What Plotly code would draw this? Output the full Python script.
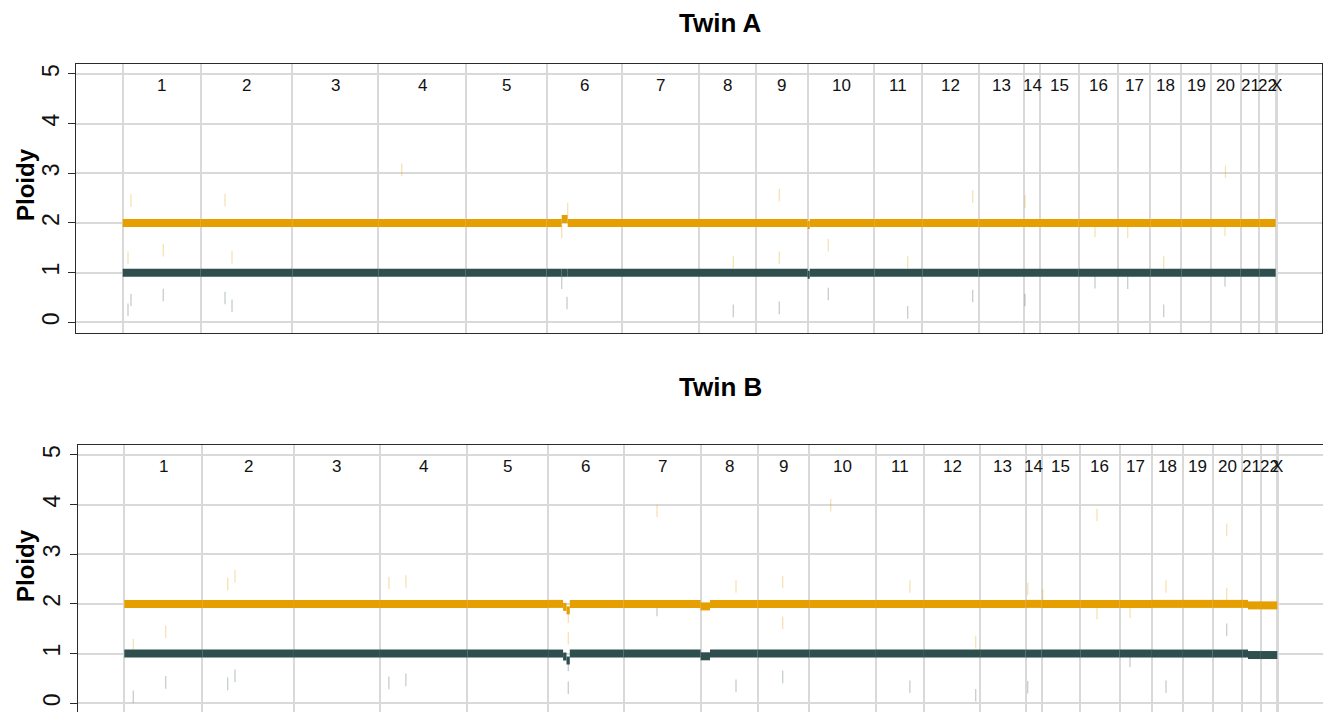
import plotly.graph_objects as go

# ---------------- data ----------------
chrom_names = ["1", "2", "3", "4", "5", "6", "7", "8", "9", "10", "11", "12",
               "13", "14", "15", "16", "17", "18", "19", "20", "21", "22", "X"]
# chromosome widths on the (compressed) genome axis
chrom_sizes = [78.0, 91.6, 86.0, 87.4, 80.8, 75.5, 77.0, 57.0, 51.7, 66.6, 48.0, 56.2,
               45.5, 16.0, 38.7, 39.3, 32.3, 31.0, 29.7, 29.7, 18.6, 16.4, 1.0]

# copy-number segments: chromosome, start, end (within chromosome), total ploidy, minor ploidy
a_seg_chrom = ["1", "2", "3", "4", "5", "6", "6", "6", "7", "8", "9", "10", "10", "11", "12",
               "13", "14", "15", "16", "17", "18", "19", "20", "21", "22"]
a_seg_start = [0, 0, 0, 0, 0, 0, 15.2, 21.2, 0, 0, 0, 0, 2.0, 0, 0,
               0, 0, 0, 0, 0, 0, 0, 0, 0, 0]
a_seg_end = [78.0, 91.6, 86.0, 87.4, 80.8, 15.2, 21.2, 75.5, 77.0, 57.0, 51.7, 2.0, 66.6, 48.0, 56.2,
             45.5, 16.0, 38.7, 39.3, 32.3, 31.0, 29.7, 29.7, 18.6, 16.4]
a_seg_total = [2, 2, 2, 2, 2, 2, 2.08, 2, 2, 2, 2, 1.96, 2, 2, 2,
               2, 2, 2, 2, 2, 2, 2, 2, 2, 2]
a_seg_minor = [1, 1, 1, 1, 1, 1, 1, 1, 1, 1, 1, 0.96, 1, 1, 1,
               1, 1, 1, 1, 1, 1, 1, 1, 1, 1]

b_seg_chrom = ["1", "2", "3", "4", "5", "6", "6", "6", "6", "7", "8", "8", "9", "10", "11", "12",
               "13", "14", "15", "16", "17", "18", "19", "20", "21", "21", "22"]
b_seg_start = [0, 0, 0, 0, 0, 0, 15.0, 18.4, 21.7, 0, 0, 9.4, 0, 0, 0, 0,
               0, 0, 0, 0, 0, 0, 0, 0, 0, 5.7, 0]
b_seg_end = [78.0, 91.6, 86.0, 87.4, 80.8, 15.0, 18.4, 21.7, 75.5, 77.0, 9.4, 57.0, 51.7, 66.6, 48.0, 56.2,
             45.5, 16.0, 38.7, 39.3, 32.3, 31.0, 29.7, 29.7, 5.7, 18.6, 16.4]
b_seg_total = [2, 2, 2, 2, 2, 2, 1.94, 1.87, 2, 2, 1.95, 2, 2, 2, 2, 2,
               2, 2, 2, 2, 2, 2, 2, 2, 2, 1.97, 1.97]
b_seg_minor = [1, 1, 1, 1, 1, 1, 0.94, 0.86, 1, 1, 0.945, 1, 1, 1, 1, 1,
               1, 1, 1, 1, 1, 1, 1, 1, 1, 0.97, 0.97]

# faint individual bin estimates (chromosome, position, value, series T=total / M=minor)
a_pt_chrom = ["1", "1", "1", "1", "1", "1", "2", "2", "2", "2", "4", "6", "6", "6", "6",
              "8", "8", "9", "9", "9", "10", "10", "11", "11", "12", "12", "14", "14",
              "16", "16", "17", "17", "18", "18", "20", "20", "20"]
a_pt_pos = [8.3, 8.3, 5.3, 5.3, 40.6, 40.6, 24.3, 24.3, 31.3, 31.3, 23.4, 15.2, 15.2, 21.2, 20.5,
            34.3, 34.3, 23.3, 23.3, 23.3, 20.6, 20.6, 33.4, 33.4, 50.4, 50.4, 1.0, 1.0,
            16.3, 16.3, 9.7, 9.7, 13.4, 13.4, 14.0, 14.0, 14.5]
a_pt_val = [2.45, 0.45, 1.3, 0.25, 1.45, 0.55, 2.46, 0.49, 1.31, 0.33, 3.07, 1.82, 0.8, 2.28, 0.39,
            1.21, 0.23, 2.56, 1.3, 0.29, 1.55, 0.57, 1.21, 0.2, 2.53, 0.53, 2.43, 0.45,
            1.84, 0.81, 1.82, 0.8, 1.21, 0.23, 1.86, 0.85, 3.03]
a_pt_kind = ["T", "M", "T", "M", "T", "M", "T", "M", "T", "M", "T", "T", "M", "T", "M",
             "T", "M", "T", "T", "M", "T", "M", "T", "M", "T", "M", "T", "M",
             "T", "M", "T", "M", "T", "M", "T", "M", "T"]

b_pt_chrom = ["1", "1", "1", "1", "2", "2", "2", "2", "4", "4", "4", "4", "6", "6", "6", "6",
              "7", "7", "8", "8", "9", "9", "9", "10", "11", "11", "12", "12", "14", "14", "15",
              "16", "16", "17", "17", "18", "18", "20", "20", "20"]
b_pt_pos = [9.0, 9.0, 41.4, 41.4, 25.4, 25.4, 32.7, 32.7, 9.0, 9.0, 26.0, 26.0, 20.2, 20.2, 20.2, 20.2,
            33.4, 33.4, 35.4, 35.4, 25.1, 25.1, 25.1, 21.4, 34.0, 34.0, 51.8, 51.8, 2.1, 2.1, 1.1,
            16.7, 16.7, 10.4, 10.4, 14.1, 14.1, 14.1, 14.1, 14.1]
b_pt_val = [1.17, 0.13, 1.44, 0.42, 2.4, 0.39, 2.56, 0.55, 2.42, 0.41, 2.45, 0.47, 1.74, 1.31, 0.77, 0.31,
            3.87, 1.88, 2.35, 0.35, 2.44, 1.62, 0.53, 3.99, 2.35, 0.33, 1.23, 0.16, 2.3, 0.32, 2.17,
            3.79, 1.82, 1.84, 0.85, 2.35, 0.33, 3.49, 2.2, 1.48]
b_pt_kind = ["T", "M", "T", "M", "T", "M", "T", "M", "T", "M", "T", "M", "T", "T", "M", "M",
             "T", "M", "T", "M", "T", "T", "M", "T", "T", "M", "T", "M", "T", "M", "T",
             "T", "T", "T", "M", "T", "M", "T", "T", "M"]

ORANGE = "#E69F00"
DARK = "#2F4F4F"
GRID = "#d9d9d9"
AXIS = "#2b2b2b"
FONT = "Liberation Sans, Arial, Helvetica, sans-serif"

# ---------------- genome coordinates ----------------
offsets = {}
acc = 0.0
boundaries = [0.0]
for name, size in zip(chrom_names, chrom_sizes):
    offsets[name] = acc
    acc += size
    boundaries.append(acc)
mids = [offsets[n] + s / 2 for n, s in zip(chrom_names, chrom_sizes)]


def seg_xy(chroms, starts, ends, vals):
    xs, ys = [], []
    for c, s, e, v in zip(chroms, starts, ends, vals):
        o = offsets[c]
        xs += [o + s, o + e, None]
        ys += [v, v, None]
    return xs, ys


def pts(chroms, pos, vals, kinds, kind):
    xs = [offsets[c] + p for c, p, k in zip(chroms, pos, kinds) if k == kind]
    ys = [v for v, k in zip(vals, kinds) if k == kind]
    return xs, ys


fig = go.Figure()

panels = [
    ("x", "y", a_seg_chrom, a_seg_start, a_seg_end, a_seg_total, a_seg_minor,
     a_pt_chrom, a_pt_pos, a_pt_val, a_pt_kind),
    ("x2", "y2", b_seg_chrom, b_seg_start, b_seg_end, b_seg_total, b_seg_minor,
     b_pt_chrom, b_pt_pos, b_pt_val, b_pt_kind),
]

for xa, ya, sc, ss, se, st, sm, pc, pp, pv, pk in panels:
    for kind, color in (("T", "rgba(230,159,0,0.3)"), ("M", "rgba(47,79,79,0.28)")):
        px_, py_ = pts(pc, pp, pv, pk, kind)
        fig.add_trace(go.Scatter(x=px_, y=py_, xaxis=xa, yaxis=ya, mode="markers",
                                 marker=dict(symbol="line-ns", size=9,
                                             line=dict(color=color, width=1.3)),
                                 hoverinfo="skip"))
    for vals, color in ((st, ORANGE), (sm, DARK)):
        xs, ys = seg_xy(sc, ss, se, vals)
        fig.add_trace(go.Scatter(x=xs, y=ys, xaxis=xa, yaxis=ya, mode="lines",
                                 line=dict(color=color, width=8), hoverinfo="skip"))
    for name, m in zip(chrom_names, mids):
        fig.add_annotation(x=m, y=4.77, xref=xa, yref=ya, text=name, showarrow=False,
                           font=dict(family=FONT, size=17, color="#111"))

W, H = 1323, 712


def px(v):
    return v / W


def py(v):
    return 1 - v / H


common_x = dict(tickvals=boundaries, showticklabels=False, ticks="", showgrid=True,
                gridcolor=GRID, gridwidth=1.5, zeroline=False, showline=True,
                linecolor=AXIS, linewidth=1.3)
common_y = dict(tickvals=[0, 1, 2, 3, 4, 5], ticks="outside", ticklen=7, tickwidth=1.3,
                tickcolor=AXIS, tickangle=-90, showgrid=True, gridcolor=GRID, gridwidth=1.5,
                zeroline=False, showline=True, linecolor=AXIS, linewidth=1.3,
                tickfont=dict(family=FONT, size=23, color="#111"))

fig.update_layout(
    width=W, height=H, margin=dict(l=0, r=0, t=0, b=0),
    paper_bgcolor="white", plot_bgcolor="white", showlegend=False,
    xaxis=dict(domain=[px(76), px(1322)], range=[-46.7, 1199.3], anchor="y", mirror=True,
               **common_x),
    yaxis=dict(domain=[py(332.5), py(64)], range=[-0.205, 5.2], anchor="x", mirror=True,
               **common_y),
    xaxis2=dict(domain=[px(77.7), 1], range=[-46.6, 1198.7], anchor="y2", side="top",
                mirror=False, **common_x),
    yaxis2=dict(domain=[0, py(445)], range=[-0.177, 5.2], anchor="x2", mirror=False,
                **common_y),
)

for text, xpx, ypx in (("Twin A", 720.5, 23), ("Twin B", 720.5, 387)):
    fig.add_annotation(x=px(xpx), y=py(ypx), xref="paper", yref="paper", text="<b>%s</b>" % text,
                       showarrow=False, xanchor="center", yanchor="middle",
                       font=dict(family=FONT, size=26, color="#000"))
for ypx in (185, 566):
    fig.add_annotation(x=px(25), y=py(ypx), xref="paper", yref="paper", text="<b>Ploidy</b>",
                       textangle=-90, showarrow=False, xanchor="center", yanchor="middle",
                       font=dict(family=FONT, size=24, color="#000"))

# let the figure fill the window exactly (no default page margin / scrollbars, no toolbar)
fig.write_html("out.html",
               config={"displayModeBar": False},
               post_script="document.body.style.margin='0';"
                           "document.body.style.overflow='hidden';")
